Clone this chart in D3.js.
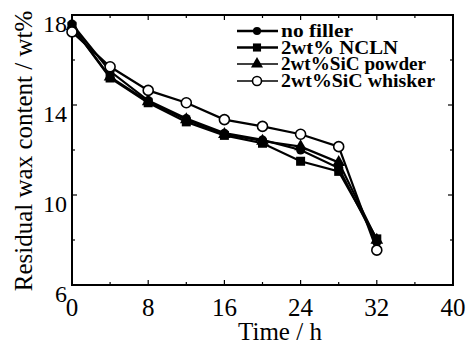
<!DOCTYPE html>
<html>
<head>
<meta charset="utf-8">
<script src="https://cdn.jsdelivr.net/npm/d3@7"></script>
<style>
  body { margin: 0; background: #fff; }
  text { font-family: "Liberation Serif", "Times New Roman", serif; fill: #000; }
</style>
</head>
<body>
<svg id="chart" width="470" height="345"></svg>
<script>
// data
var times = [0, 4, 8, 12, 16, 20, 24, 28, 32];
var noFiller = [17.6, 15.5, 14.2, 13.4, 12.75, 12.45, 12.0, 11.2, 7.9];
var ncln = [17.5, 15.2, 14.1, 13.25, 12.65, 12.3, 11.5, 11.05, 8.05];
var sicPowder = [17.5, 15.25, 14.15, 13.35, 12.7, 12.4, 12.15, 11.45, 8.0];
var sicWhisker = [17.25, 15.7, 14.65, 14.1, 13.35, 13.05, 12.7, 12.15, 7.55];

var seriesNames = ["no filler", "2wt% NCLN", "2wt%SiC powder", "2wt%SiC whisker"];
var seriesSymbols = ["circle", "square", "triangle", "open"];
var xTicks = [0, 8, 16, 24, 32, 40];
var yTicks = [6, 10, 14, 18];

var series = [noFiller, ncln, sicPowder, sicWhisker].map(function (vals, i) {
  return { name: seriesNames[i], sym: seriesSymbols[i],
           pts: vals.map(function (v, j) { return { t: times[j], v: v }; }) };
});

var svg = d3.select("#chart");
var margin = { left: 72, right: 17, top: 15, bottom: 60 };
var W = 470, H = 345;

var x = d3.scaleLinear().domain([0, 40]).range([margin.left, W - margin.right]);
var y = d3.scaleLinear().domain([6, 18]).range([H - margin.bottom, margin.top]);

// frame
svg.append("rect")
  .attr("x", x(0)).attr("y", y(18))
  .attr("width", x(40) - x(0)).attr("height", y(6) - y(18))
  .attr("fill", "none").attr("stroke", "#000").attr("stroke-width", 2);

// ticks (inward)
var minorX = d3.range(4, 40, 8);
var minorY = [8, 12, 16];
var tg = svg.append("g").attr("stroke", "#000").attr("stroke-width", 1.2);
xTicks.concat(minorX).forEach(function (t) {
  var len = xTicks.indexOf(t) >= 0 ? 5 : 3;
  tg.append("line").attr("x1", x(t)).attr("x2", x(t)).attr("y1", y(6)).attr("y2", y(6) - len);
  tg.append("line").attr("x1", x(t)).attr("x2", x(t)).attr("y1", y(18)).attr("y2", y(18) + len);
});
yTicks.concat(minorY).forEach(function (t) {
  var len = yTicks.indexOf(t) >= 0 ? 5 : 3;
  tg.append("line").attr("y1", y(t)).attr("y2", y(t)).attr("x1", x(0)).attr("x2", x(0) + len);
  tg.append("line").attr("y1", y(t)).attr("y2", y(t)).attr("x1", x(40)).attr("x2", x(40) - len);
});

// tick labels
svg.append("g").selectAll("text").data(xTicks).enter().append("text")
  .attr("x", function (d) { return x(d); })
  .attr("y", y(6) + 31)
  .attr("text-anchor", "middle")
  .attr("font-size", 25)
  .text(function (d) { return d; });

svg.append("g").selectAll("text").data(yTicks).enter().append("text")
  .attr("x", x(0) - 5)
  .attr("y", function (d) { return y(d) + 17; })
  .attr("text-anchor", "end")
  .attr("font-size", 24)
  .text(function (d) { return d; });

// axis titles
svg.append("text")
  .attr("x", 280).attr("y", 340)
  .attr("text-anchor", "middle")
  .attr("font-size", 25)
  .text("Time / h");

svg.append("text")
  .attr("transform", "translate(32,151) rotate(-90)")
  .attr("text-anchor", "middle")
  .attr("font-size", 25)
  .text("Residual wax content / wt%");

// markers
function drawMarker(g, sym, cx, cy, big) {
  var s = big ? 1 : 0.9;
  if (sym === "circle") {
    g.append("circle").attr("cx", cx).attr("cy", cy).attr("r", 4.5 * s).attr("fill", "#000");
  } else if (sym === "square") {
    g.append("rect").attr("x", cx - 4.5 * s).attr("y", cy - 4.5 * s)
      .attr("width", 9 * s).attr("height", 9 * s).attr("fill", "#000");
  } else if (sym === "triangle") {
    g.append("path")
      .attr("d", d3.symbol().type(d3.symbolTriangle).size(70 * s)())
      .attr("transform", "translate(" + cx + "," + cy + ")")
      .attr("fill", "#000");
  } else {
    g.append("circle").attr("cx", cx).attr("cy", cy).attr("r", 5 * s)
      .attr("fill", "#fff").attr("stroke", "#000").attr("stroke-width", 1.6);
  }
}

var line = d3.line().x(function (d) { return x(d.t); }).y(function (d) { return y(d.v); });

series.forEach(function (s) {
  svg.append("path").datum(s.pts)
    .attr("d", line)
    .attr("fill", "none").attr("stroke", "#000").attr("stroke-width", 2.2);
});
series.forEach(function (s) {
  var g = svg.append("g");
  s.pts.forEach(function (p) { drawMarker(g, s.sym, x(p.t), y(p.v), true); });
});

// legend
var legY = [31, 47.5, 64, 81];
var legW = [72, 117, 145, 154];
var leg = svg.append("g");
series.forEach(function (s, i) {
  leg.append("line").attr("x1", 237).attr("x2", 278)
    .attr("y1", legY[i]).attr("y2", legY[i])
    .attr("stroke", "#000").attr("stroke-width", i < 2 ? 2.5 : 1.6);
  drawMarker(leg, s.sym, 257, legY[i], false);
  leg.append("text")
    .attr("x", 281).attr("y", legY[i] + 6)
    .attr("font-size", 18).attr("font-weight", "bold")
    .attr("textLength", legW[i]).attr("lengthAdjust", "spacingAndGlyphs")
    .text(s.name);
});
</script>
</body>
</html>
